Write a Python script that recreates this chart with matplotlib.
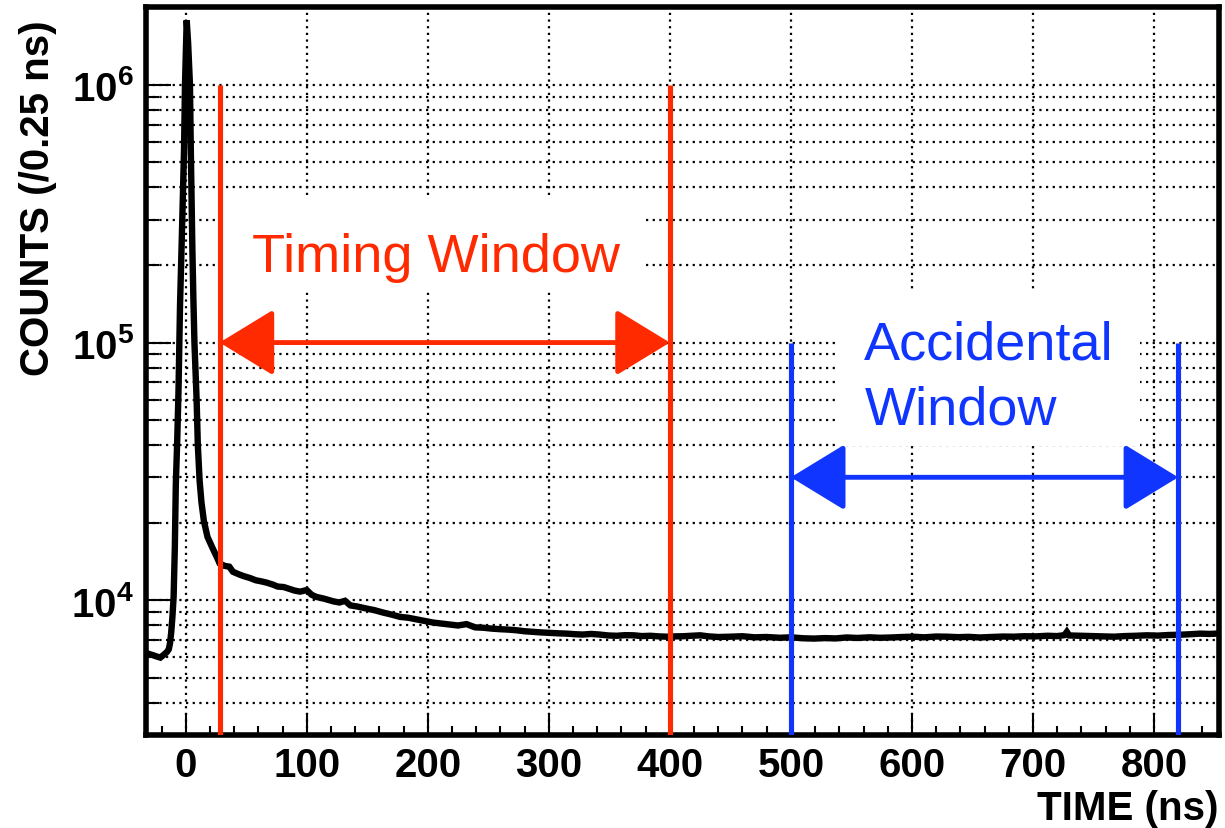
import matplotlib
matplotlib.use('Agg')
import matplotlib.pyplot as plt
import numpy as np
from matplotlib.patches import Rectangle
from matplotlib.ticker import MultipleLocator, LogLocator, NullFormatter

# prompt peak region (time in ns, counts per 0.25 ns)
peak_t = [-33, -30, -27, -24, -21, -18, -15.5, -14, -13, -12, -11, -10, -9, -8.2,
          -7, -6, -4.7, -3, -1.4, -0.6, 0.8, 2, 3.5, 4.2, 5.5, 6.3, 7.2, 9, 10,
          11.5, 13, 15, 18, 22, 26, 28]
peak_counts = [6250, 6180, 6120, 6050, 5990, 6150, 6300, 6450, 6800, 7500, 8600,
               10300, 16000, 28000, 42000, 64000, 140000, 280000, 560000, 1000000,
               1780000, 1450000, 1000000, 560000, 230000, 150000, 100000, 60000,
               40000, 29000, 24000, 20300, 17600, 16000, 14600, 13900]

# slow tail + flat accidental background
tail_t = [32, 36, 39, 44, 48, 53, 58, 62, 67, 72, 76, 81, 86, 90, 94.5, 100, 104,
          108, 114, 122, 127, 131.6, 136, 142, 149.5, 156, 163, 170, 177, 184, 191,
          198, 204.6, 211, 218, 225, 232, 239, 246, 253, 260, 267, 273, 280, 287,
          294, 301, 308, 315, 322, 328, 335, 342, 349, 356, 363, 370, 377, 384, 391,
          397.5, 404, 411, 418, 425, 432, 440, 450, 460, 470, 480, 491, 500, 510,
          519, 528, 537, 546, 555, 565, 574, 583, 592, 601, 610, 620, 629, 638, 647,
          656, 665, 675, 684, 693, 702, 712, 720, 726, 728, 730, 739, 748, 757, 767,
          776, 785, 794, 803, 812, 822, 830, 838, 846, 854]
tail_counts = [13600, 13500, 12900, 12600, 12400, 12200, 11950, 11850, 11700, 11500,
               11300, 11250, 11050, 10900, 10800, 10950, 10500, 10300, 10150, 9900,
               9800, 9950, 9550, 9450, 9280, 9150, 8960, 8800, 8620, 8550, 8420, 8300,
               8190, 8120, 8050, 7980, 8080, 7850, 7820, 7760, 7720, 7690, 7650, 7580,
               7540, 7500, 7470, 7440, 7420, 7380, 7360, 7400, 7360, 7300, 7280, 7320,
               7310, 7260, 7280, 7240, 7220, 7240, 7250, 7280, 7310, 7240, 7200, 7220,
               7250, 7180, 7200, 7150, 7180, 7120, 7100, 7130, 7110, 7170, 7140, 7180,
               7150, 7170, 7200, 7220, 7180, 7230, 7220, 7190, 7210, 7170, 7200, 7230,
               7220, 7250, 7240, 7280, 7260, 7320, 7540, 7300, 7280, 7260, 7240, 7220,
               7260, 7280, 7310, 7290, 7330, 7350, 7380, 7420, 7400, 7430]

time_ns = peak_t + tail_t
counts = peak_counts + tail_counts

timing_window = [28, 400]
accidental_window = [500, 820]
timing_top = 1e6
accidental_top = 1e5
timing_arrow_y = 1e5
accidental_arrow_y = 3e4

red = '#ff2a00'
blue = '#1035ff'

plt.rcParams['font.family'] = ['Liberation Sans', 'DejaVu Sans']
plt.rcParams['font.weight'] = 'bold'
plt.rcParams['mathtext.fontset'] = 'custom'
plt.rcParams['mathtext.bf'] = 'Liberation Sans:bold'
plt.rcParams['mathtext.rm'] = 'Liberation Sans:bold'

fig = plt.figure(figsize=(12.25, 8.29), dpi=100)
ax = fig.add_axes([0.1194, 0.1122, 0.8757, 0.8778])
ax.set_yscale('log')
ax.set_xlim(-32.6, 853.7)
ax.set_ylim(3000, 2.0e6)
ymin = ax.get_ylim()[0]

# ticks
ax.xaxis.set_major_locator(MultipleLocator(100))
ax.xaxis.set_minor_locator(MultipleLocator(20))
ax.set_yticks([1e4, 1e5, 1e6], labels=[r'$\mathbf{10^{4}}$', r'$\mathbf{10^{5}}$', r'$\mathbf{10^{6}}$'])
ax.yaxis.set_minor_locator(LogLocator(base=10, subs=np.arange(2, 10)))
ax.yaxis.set_minor_formatter(NullFormatter())
ax.tick_params(axis='x', which='major', direction='in', length=16, width=1.5, labelsize=29, pad=8, top=False)
ax.tick_params(axis='x', which='minor', direction='in', length=6.5, width=1.5, top=False)
ax.tick_params(axis='y', which='major', direction='in', length=18, width=1.5, labelsize=29, pad=9, right=False)
ax.tick_params(axis='y', which='minor', direction='in', length=9.5, width=1.5, right=False)
for s in ax.spines.values():
    s.set_linewidth(4)

# dotted grid
ax.set_axisbelow(True)
ax.grid(which='major', axis='x', ls=(0, (1, 2)), lw=1.6, color='k')
ax.grid(which='both', axis='y', ls=(0, (1, 2)), lw=1.6, color='k')

# white boxes behind the labels
ax.add_patch(Rectangle((32.5, 156800), 345.3, 371000 - 156800, facecolor='white', edgecolor='none', zorder=1.5))
ax.add_patch(Rectangle((539, 39800), 249.4, 158000 - 39800, facecolor='white', edgecolor='none', zorder=1.5))

ax.plot(time_ns, counts, color='k', lw=4.6, zorder=2, solid_joinstyle='miter')

ax.vlines(timing_window, ymin, timing_top, color=red, lw=3.7, zorder=3)
ax.vlines(accidental_window, ymin, accidental_top, color=blue, lw=3.7, zorder=3)

ax.annotate('', xy=(timing_window[1], timing_arrow_y), xytext=(timing_window[0], timing_arrow_y),
            arrowprops=dict(arrowstyle='<|-|>,head_length=0.95,head_width=0.58', mutation_scale=36,
                            color=red, lw=3.5, shrinkA=0, shrinkB=0), zorder=4)
ax.annotate('', xy=(accidental_window[1], accidental_arrow_y), xytext=(accidental_window[0], accidental_arrow_y),
            arrowprops=dict(arrowstyle='<|-|>,head_length=0.95,head_width=0.58', mutation_scale=36,
                            color=blue, lw=3.5, shrinkA=0, shrinkB=0), zorder=4)

ax.text(207, 1.9e5, 'Timing Window', color=red, fontsize=39, fontweight='normal',
        ha='center', va='baseline', zorder=5)
ax.text(560, 8.67e4, 'Accidental', color=blue, fontsize=39, fontweight='normal',
        ha='left', va='baseline', zorder=5)
ax.text(561, 4.85e4, 'Window', color=blue, fontsize=39, fontweight='normal',
        ha='left', va='baseline', zorder=5)

ax.set_xlabel('TIME (ns)', fontsize=29, fontweight='bold', loc='right')
ax.xaxis.set_label_coords(1.0, -0.074)
ax.set_ylabel('COUNTS (/0.25 ns)', fontsize=29, fontweight='bold', loc='top')
ax.yaxis.set_label_coords(-0.0833, 0.984)

fig.savefig('out.png', dpi=100)
